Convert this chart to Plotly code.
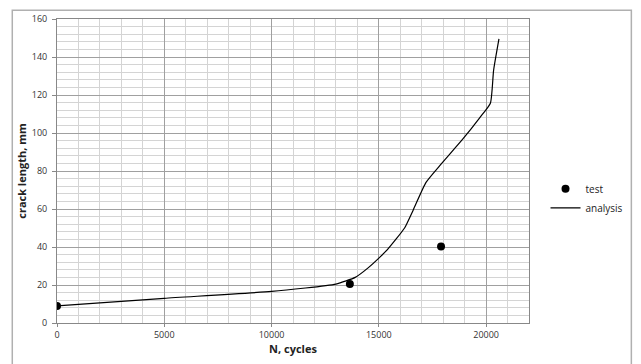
import plotly.graph_objects as go

test_N = [0, 13650, 17900]
test_a = [9, 20.5, 40.3]

analysis_N = [0, 5000, 10000, 13000, 13900, 14500, 15100, 15400, 16200, 16600,
              17200, 17900, 18900, 19700, 20200, 20350, 20600]
analysis_a = [9, 13, 16.6, 20.5, 24, 29, 35.2, 38.6, 50, 59.4,
              74, 83.6, 96.6, 108, 115.7, 133, 149.5]

x_ticks = [0, 5000, 10000, 15000, 20000]
y_ticks = [0, 20, 40, 60, 80, 100, 120, 140, 160]

FONT = "Open Sans"

fig = go.Figure()
fig.add_trace(go.Scatter(x=test_N, y=test_a, mode="markers", name="test",
                         marker=dict(color="black", size=8)))
fig.add_trace(go.Scatter(x=analysis_N, y=analysis_a, mode="lines", name="analysis",
                         line=dict(color="black", width=1.2, shape="spline", smoothing=0.5)))

fig.update_layout(
    width=641, height=364,
    margin=dict(l=57, r=109, t=14, b=41),
    paper_bgcolor="white", plot_bgcolor="white",
    font=dict(family=FONT, size=9, color="#333"),
    showlegend=True,
    legend=dict(x=1.035, y=0.41, xanchor="left", yanchor="middle",
                font=dict(family=FONT, size=10, color="#222"),
                itemwidth=30, tracegroupgap=0, bgcolor="rgba(0,0,0,0)"),
    xaxis=dict(range=[0, 22000], tickvals=x_ticks, ticktext=[str(v) for v in x_ticks],
               showgrid=True, gridcolor="#a0a0a0", gridwidth=1,
               minor=dict(dtick=1000, showgrid=True, gridcolor="#d4d4d4", gridwidth=1),
               showline=True, linecolor="#888", linewidth=1, mirror=True,
               ticks="outside", ticklen=3, tickcolor="#888",
               zeroline=False,
               title=dict(text="<b>N, cycles</b>", font=dict(family=FONT, size=11, color="#222"),
                          standoff=2)),
    yaxis=dict(range=[0, 160], tickvals=y_ticks,
               showgrid=True, gridcolor="#a0a0a0", gridwidth=1,
               minor=dict(dtick=4, showgrid=True, gridcolor="#d4d4d4", gridwidth=1),
               showline=True, linecolor="#888", linewidth=1, mirror=True,
               ticks="outside", ticklen=4, tickcolor="#888",
               ticklabelstandoff=3, ticklabeloverflow="allow",
               zeroline=False,
               title=dict(text="<b>crack length, mm</b>", font=dict(family=FONT, size=11, color="#222"),
                          standoff=2)),
)

fig.add_shape(type="rect", xref="paper", yref="paper",
              x0=(12 - 57) / 475, x1=(635 - 57) / 475,
              y0=-0.2, y1=(323 - 5) / 309,
              line=dict(color="#b0b0b0", width=1.5), fillcolor="rgba(0,0,0,0)", layer="below")

fig.write_html("out.html", config={"displayModeBar": False},
               post_script="document.body.style.margin='0';")
